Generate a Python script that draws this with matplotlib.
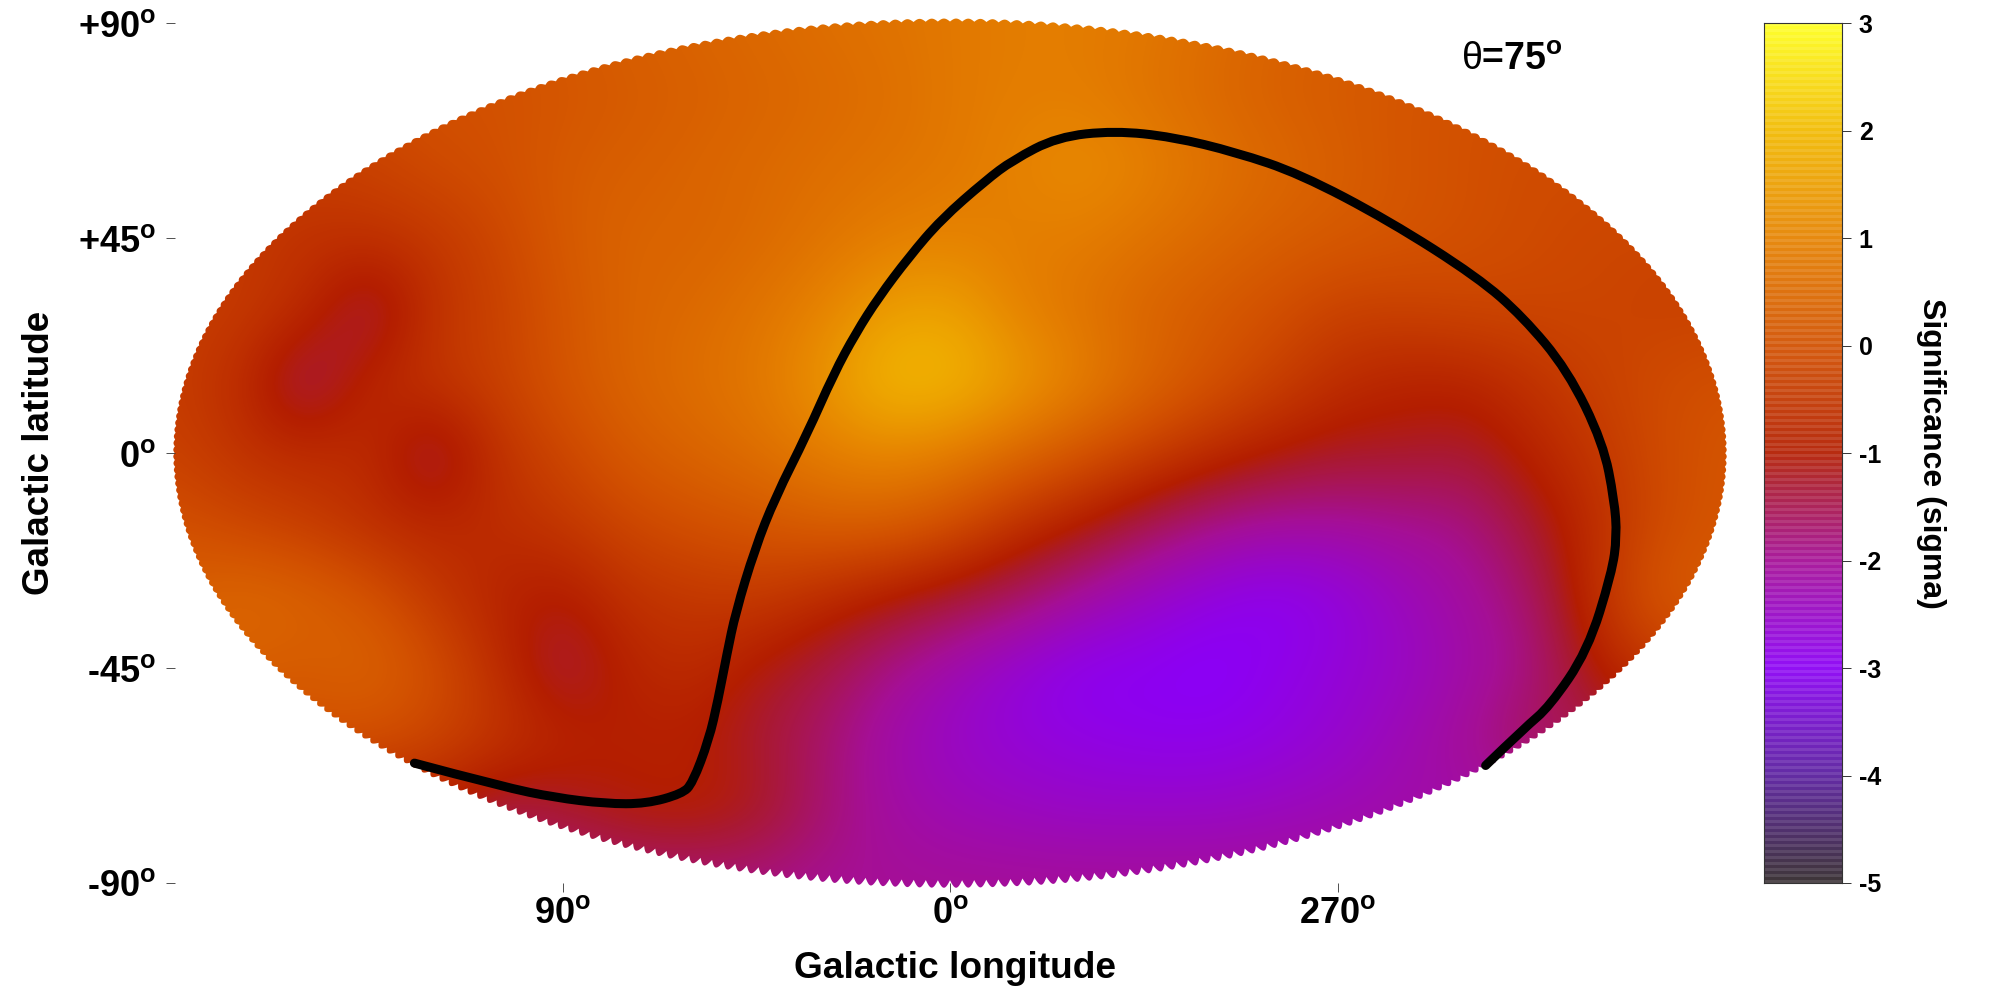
import numpy as np
import matplotlib
matplotlib.use('Agg')
import matplotlib.pyplot as plt
from matplotlib.colors import LinearSegmentedColormap, Normalize
from matplotlib.patches import Polygon, PathPatch
from matplotlib.path import Path

plt.rcParams['font.family'] = ['Liberation Sans', 'DejaVu Sans']
plt.rcParams['font.weight'] = 'bold'
plt.rcParams['axes.unicode_minus'] = False
plt.rcParams['mathtext.fontset'] = 'custom'
plt.rcParams['mathtext.rm'] = 'Liberation Sans:bold'
plt.rcParams['mathtext.it'] = 'Liberation Sans:regular'
plt.rcParams['mathtext.bf'] = 'Liberation Sans:bold'

# significance, rows +90..-90, columns 180..-180 (left to right)
lat_rows = [90, 75, 60, 45, 30, 15, 0, -15, -30, -45, -60, -75, -90]
lon_cols = [180, 165, 150, 135, 120, 105, 90, 75, 60, 45, 30, 15, 0,
            -15, -30, -45, -60, -75, -90, -105, -120, -135, -150, -165, -180]
sig_p90 = [0.0, 0.0, 0.0, 0.0, 0.0, 0.1, 0.2, 0.3, 0.4, 0.5, 0.6, 0.7, 0.8, 0.9, 0.9, 0.8, 0.6, 0.4, 0.3, 0.2, 0.1, 0.0, 0.0, 0.0, 0.0]
sig_p75 = [-0.1, -0.1, -0.1, -0.1, 0.0, 0.0, 0.1, 0.2, 0.3, 0.4, 0.5, 0.6, 0.8, 0.9, 0.9, 0.7, 0.5, 0.3, 0.2, 0.1, 0.0, 0.0, 0.0, 0.0, 0.0]
sig_p60 = [-0.4, -0.4, -0.4, -0.3, -0.1, 0.0, 0.2, 0.3, 0.4, 0.5, 0.6, 0.7, 0.8, 1.0, 1.2, 1.0, 0.7, 0.5, 0.3, 0.1, 0.0, -0.1, -0.1, -0.1, -0.1]
sig_p45 = [-0.5, -0.5, -0.6, -0.6, -0.5, -0.2, 0.2, 0.4, 0.4, 0.5, 0.7, 0.9, 1.0, 0.9, 0.9, 0.7, 0.5, 0.3, 0.2, 0.1, 0.0, -0.1, -0.2, -0.2, -0.2]
sig_p30 = [-0.4, -0.4, -0.7, -1.6, -0.6, -0.3, 0.1, 0.4, 0.5, 0.7, 1.0, 1.5, 1.6, 1.0, 0.7, 0.4, 0.2, 0.0, -0.3, -0.3, -0.2, -0.2, -0.2, -0.3, -0.3]
sig_p15 = [-0.4, -0.7, -1.7, -0.8, -0.5, -0.3, 0.1, 0.4, 0.6, 0.8, 1.3, 2.0, 2.0, 1.5, 1.0, 0.5, 0.1, -0.3, -0.7, -0.9, -0.9, -0.6, -0.3, -0.1, 0.0]
sig_0 = [-0.3, -0.6, -0.7, -0.7, -1.6, -0.6, -0.2, 0.2, 0.4, 0.6, 0.9, 1.1, 0.9, 0.5, 0.1, -0.3, -0.7, -1.0, -1.2, -1.2, -1.3, -0.9, -0.5, -0.1, 0.1]
sig_m15 = [0.0, -0.2, -0.4, -0.7, -0.8, -0.7, -0.5, -0.2, 0.0, 0.1, 0.3, 0.3, 0.0, -0.6, -1.0, -1.5, -1.9, -2.1, -2.1, -2.0, -1.9, -1.3, -0.7, -0.1, 0.1]
sig_m30 = [0.3, 0.5, 0.4, 0.1, -0.5, -0.9, -1.1, -0.6, -0.5, -0.4, -0.7, -1.0, -1.3, -1.6, -2.1, -2.5, -2.8, -3.0, -2.8, -2.4, -2.1, -1.7, -0.6, 0.2, 0.2]
sig_m45 = [0.3, 0.3, 0.2, 0.4, 0.0, -0.7, -1.5, -0.9, -0.7, -1.1, -1.4, -1.9, -2.3, -2.7, -3.0, -3.0, -3.1, -2.9, -2.7, -2.5, -2.2, -1.9, -1.0, -0.4, -0.4]
sig_m60 = [0.0, 0.0, 0.0, 0.0, -0.2, -0.5, -0.8, -1.0, -1.0, -1.3, -1.7, -2.2, -2.5, -2.7, -2.8, -2.9, -2.9, -2.8, -2.6, -2.3, -2.0, -1.5, -1.5, -1.5, -1.5]
sig_m75 = [-1.0, -1.0, -1.0, -1.0, -1.0, -1.5, -1.3, -1.0, -0.9, -1.1, -1.7, -2.1, -2.3, -2.4, -2.5, -2.5, -2.5, -2.4, -2.3, -2.2, -2.2, -2.2, -2.2, -2.2, -2.2]
sig_m90 = [-1.9, -1.9, -1.9, -1.9, -1.9, -1.9, -1.9, -1.9, -1.9, -1.9, -2.0, -2.0, -2.0, -2.0, -2.0, -2.0, -2.0, -2.0, -2.0, -2.0, -2.0, -2.0, -2.0, -2.0, -2.0]

# black curve
curve_lon = [124.4, 103.7, 91.8, 80.0, 70.5, 62.2, 59.8, 56.0, 53.9, 51.8, 49.8, 45.3, 40.6, 33.2, 27.0, 21.9, 16.6, 9.5, 2.1,
             -8.3, -14.5, -24.9, -38.2, -51.8, -66.4, -81.2, -101.9, -122.6, -133.0, -143.4, -151.7, -154.3, -154.9,
             -153.7, -148.1, -139.2, -133.6, -124.4]
curve_lat = [-64.9, -69.9, -72.1, -73.4, -73.4, -71.3, -69.1, -60.0, -51.8, -42.0, -33.4, -20.0, -9.3, 4.0, 16.6, 25.1, 32.6, 41.1, 48.9,
             57.1, 61.3, 66.2, 67.5, 66.2, 63.0, 58.5, 48.7, 36.8, 28.6, 17.4, 2.1, -9.9, -17.4,
             -25.1, -41.4, -53.1, -57.4, -65.4]

lat_ticks = [90, 45, 0, -45, -90]
lat_labels = ['+90', '+45', '0', '-45', '-90']
lon_ticks = [90, 0, -90]
lon_labels = ['90', '0', '270']
cbar_ticks = [3, 2, 1, 0, -1, -2, -3, -4, -5]

cmap_levels = [-5, -4, -3, -2, -1.3, -1, 0, 1, 2, 3]
cmap_colors = ['#32282d', '#5a1ea0', '#8c00f5', '#a50f96', '#aa1932', '#b41e00',
               '#d25000', '#e68200', '#f2b900', '#ffff1e']
vmin, vmax = -5, 3
norm = Normalize(vmin, vmax)
cmap = LinearSegmentedColormap.from_list(
    'sig', [((v - vmin) / (vmax - vmin), c) for v, c in zip(cmap_levels, cmap_colors)], N=512)

W, H = 2000, 1000
fig = plt.figure(figsize=(20, 10), dpi=100)


def px_axes(x0, y0, x1, y1):
    return fig.add_axes([x0 / W, 1 - y1 / H, (x1 - x0) / W, (y1 - y0) / H])


ax = px_axes(175, 23.3, 1725, 883)
sig = np.array([sig_p90, sig_p75, sig_p60, sig_p45, sig_p30, sig_p15, sig_0,
                sig_m15, sig_m30, sig_m45, sig_m60, sig_m75, sig_m90])
dlon = abs(lon_cols[1] - lon_cols[0]) / 2
dlat = abs(lat_rows[1] - lat_rows[0]) / 2
im = ax.imshow(sig, cmap=cmap, norm=norm, aspect='auto', interpolation='bicubic', origin='upper',
               extent=[lon_cols[0] + dlon, lon_cols[-1] - dlon, lat_rows[-1] - dlat, lat_rows[0] + dlat])

# scalloped edge of the sky map (circles in the original)
t = np.linspace(0, 2 * np.pi, 6401)
amp = np.where(np.sin(t) < 0, 1.5 + 6 * np.sin(t) ** 2, 1.5 + 1.5 * np.sin(t) ** 2)
inset = amp * (1 - np.abs(np.sin(200 * t)))
edge_x = 180.4 * (1 - inset / 777) * np.cos(t)
edge_y = 91.0 * (1 - inset / 435) * np.sin(t)
clip = Polygon(np.c_[edge_x, edge_y], closed=True, transform=ax.transData, fc='none', ec='none', clip_on=False)
ax.add_patch(clip)
im.set_clip_path(clip)
im.set_clip_box(fig.bbox)

# rounded through the read points: each one is a quadratic control point
pts = np.c_[curve_lon, curve_lat]
mids = (pts[1:-2] + pts[2:-1]) / 2
verts = [pts[0]]
codes = [Path.MOVETO]
for ctrl, end in zip(pts[1:-2], mids):
    verts += [ctrl, end]
    codes += [Path.CURVE3, Path.CURVE3]
verts += [pts[-2], pts[-1]]
codes += [Path.CURVE3, Path.CURVE3]
ax.add_patch(PathPatch(Path(verts, codes), fc='none', ec='black', lw=6.5, capstyle='round', joinstyle='round'))

ax.set_xlim(180, -180)
ax.set_ylim(-90, 90)
for s in ax.spines.values():
    s.set_visible(False)
ax.set_xticks(lon_ticks)
ax.set_xticklabels([l + r'$^{\mathrm{o}}$' for l in lon_labels])
ax.set_yticks(lat_ticks)
ax.set_yticklabels([l + r'$^{\mathrm{o}}$' for l in lat_labels])
ax.tick_params(axis='both', length=6.5, width=0.6, labelsize=26, color='#333333')
ax.tick_params(axis='y', pad=7)
ax.tick_params(axis='x', pad=3)

fig.text(955 / W, 1 - 969 / H, 'Galactic longitude', ha='center', va='center', fontsize=26.7)
fig.text(40 / W, 1 - 453 / H, 'Galactic latitude', ha='center', va='center', rotation=90, fontsize=26.5)
fig.text(1512 / W, 1 - 60 / H, r'$\theta$=75$^{\mathrm{o}}$', ha='center', va='center', fontsize=27)

# colour bar, with the faint stripes of the original
cax = px_axes(1764, 23.3, 1841.5, 883)
levels = np.linspace(vmax, vmin, 287)
alpha = np.where(np.arange(len(levels)) % 2 == 0, 0.84, 0.94)
cax.imshow(levels[:, None], cmap=cmap, norm=norm, aspect='auto', alpha=alpha[:, None],
           interpolation='nearest', extent=[0, 1, vmin, vmax])
cax.set_xticks([])
cax.yaxis.tick_right()
cax.set_yticks(cbar_ticks)
cax.tick_params(axis='y', length=6.5, width=0.7, labelsize=18, pad=6, color='#333333')
for s in cax.spines.values():
    s.set_linewidth(0.8)
    s.set_color('#333333')
fig.text(1931 / W, 1 - 453 / H, 'Significance (sigma)', ha='center', va='center', rotation=270, fontsize=23)

fig.savefig('out.png', dpi=100)
